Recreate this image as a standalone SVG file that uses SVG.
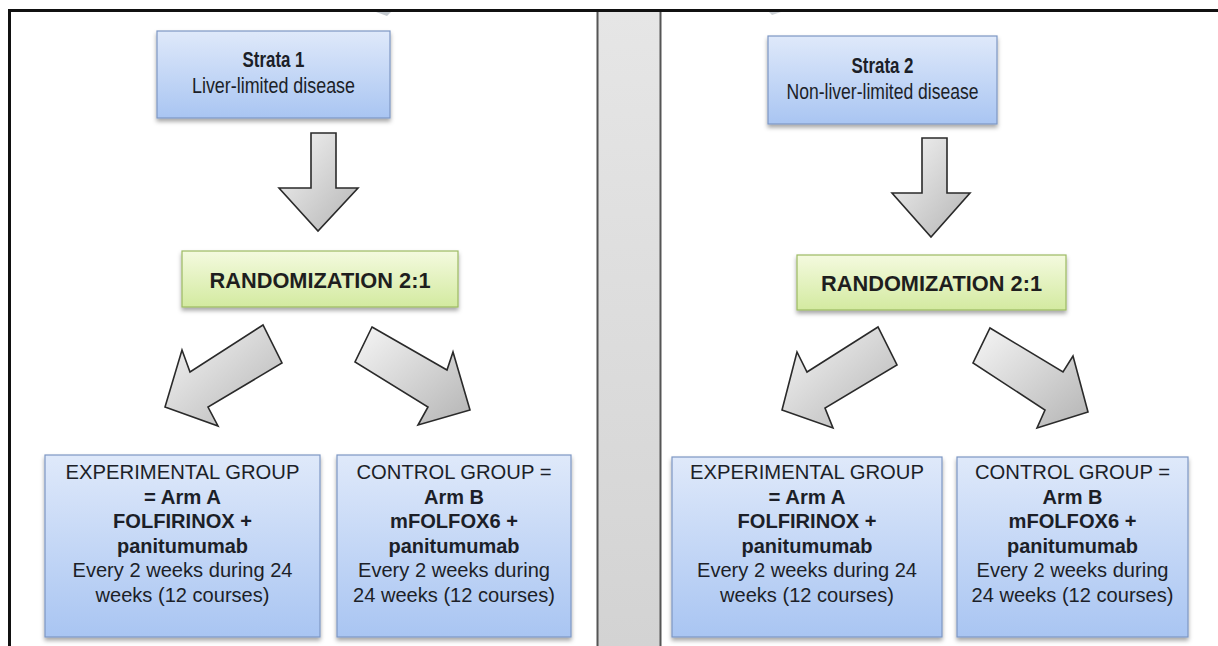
<svg xmlns="http://www.w3.org/2000/svg" width="1218" height="646" viewBox="0 0 1218 646">
  <defs>
    <linearGradient id="gBlue" x1="0" y1="0" x2="0" y2="1">
      <stop offset="0" stop-color="#dfe9fa"/>
      <stop offset="1" stop-color="#a9c5f2"/>
    </linearGradient>
    <linearGradient id="gGreen" x1="0" y1="0" x2="0" y2="1">
      <stop offset="0" stop-color="#f4fadf"/>
      <stop offset="1" stop-color="#d3eaa0"/>
    </linearGradient>
    <linearGradient id="gArrow" x1="0" y1="0" x2="1" y2="1">
      <stop offset="0" stop-color="#f6f6f6"/>
      <stop offset="1" stop-color="#b4b4b4"/>
    </linearGradient>
    <linearGradient id="gDiv" x1="0" y1="0" x2="0" y2="1">
      <stop offset="0" stop-color="#e6e6e6"/>
      <stop offset="1" stop-color="#d3d3d3"/>
    </linearGradient>
    <filter id="sh" x="-10%" y="-10%" width="120%" height="130%">
      <feDropShadow dx="0" dy="3" stdDeviation="2" flood-color="#000" flood-opacity="0.35"/>
    </filter>
  </defs>
  <style>
    .blue { fill: url(#gBlue); stroke: #7d97c4; stroke-width: 1.2; filter: url(#sh); }
    .green { fill: url(#gGreen); stroke: #9cba62; stroke-width: 1.2; filter: url(#sh); }
    .arrow { fill: url(#gArrow); stroke: #2a2a2a; stroke-width: 1.6; stroke-linejoin: miter; }
    .n { font-family: "Liberation Sans", Arial, sans-serif; fill: #1c1f28; text-anchor: middle; }
    .s { font-size: 21.5px; }
    .b { font-size: 21px; }
    .bold { font-weight: bold; }
    .rnd { font-family: "Liberation Sans", Arial, sans-serif; font-weight: bold; font-size: 21.5px; fill: #1e1e1e; text-anchor: middle; }
  </style>
  <rect x="0" y="0" width="1218" height="646" fill="#ffffff"/>

  <g id="frame">
    <line x1="9.5" y1="10.5" x2="1218" y2="10.5" stroke="#111" stroke-width="3"/>
    <line x1="9.5" y1="9" x2="9.5" y2="646" stroke="#111" stroke-width="3"/>
    <polygon points="376,12 391,12 387,16" fill="#9aa3ad" opacity="0.6"/>
    <polygon points="769,12 781,12 772,15" fill="#9aa3ad" opacity="0.5"/>
  </g>

  <g id="divider">
    <rect x="597" y="12" width="64" height="634" fill="url(#gDiv)"/>
    <line x1="597.5" y1="12" x2="597.5" y2="646" stroke="#555" stroke-width="2"/>
    <line x1="660.5" y1="12" x2="660.5" y2="646" stroke="#555" stroke-width="2"/>
  </g>

  <g id="connectors">
    <polygon class="arrow" points="311,133 336,133 336,188 358,188 318,231 279,188 311,188"/>
    <polygon class="arrow" points="263,325 190,372 182,350 165,407 218,426 208,407 282,363"/>
    <polygon class="arrow" points="372,327 447,370 453,352 470,410 418,425 428,407 355,362"/>
    <polygon class="arrow" points="922,138 947,138 947,193 970,193 931,237 892,193 922,193"/>
    <polygon class="arrow" points="878,327 807,372 797,352 782,410 833,428 825,408 897,365"/>
    <polygon class="arrow" points="990,328 1063,372 1073,356 1088,412 1037,428 1045,410 973,363"/>
  </g>

  <g id="strata1">
    <rect class="blue" x="157" y="31" width="233" height="87"/>
    <text class="n s bold" x="273.5" y="67" textLength="62" lengthAdjust="spacingAndGlyphs">Strata 1</text>
    <text class="n s" x="273.5" y="93" textLength="163" lengthAdjust="spacingAndGlyphs">Liver-limited disease</text>
  </g>

  <g id="strata2">
    <rect class="blue" x="768" y="36" width="229" height="88"/>
    <text class="n s bold" x="882.5" y="73" textLength="62" lengthAdjust="spacingAndGlyphs">Strata 2</text>
    <text class="n s" x="882.5" y="99" textLength="192" lengthAdjust="spacingAndGlyphs">Non-liver-limited disease</text>
  </g>

  <g id="rand1">
    <rect class="green" x="182" y="251" width="276" height="56"/>
    <text class="rnd" x="320" y="288" textLength="221" lengthAdjust="spacingAndGlyphs">RANDOMIZATION 2:1</text>
  </g>

  <g id="rand2">
    <rect class="green" x="797" y="255" width="269" height="55"/>
    <text class="rnd" x="931.5" y="291" textLength="221" lengthAdjust="spacingAndGlyphs">RANDOMIZATION 2:1</text>
  </g>

  <g id="armA1">
    <rect class="blue" x="45" y="455" width="275" height="182"/>
    <text class="n b" x="182.5" y="479" textLength="234" lengthAdjust="spacingAndGlyphs">EXPERIMENTAL GROUP</text>
    <text class="n b bold" x="182.5" y="503.5" textLength="77" lengthAdjust="spacingAndGlyphs">= Arm A</text>
    <text class="n b bold" x="182.5" y="528" textLength="139" lengthAdjust="spacingAndGlyphs">FOLFIRINOX +</text>
    <text class="n b bold" x="182.5" y="552.5" textLength="131" lengthAdjust="spacingAndGlyphs">panitumumab</text>
    <text class="n b" x="182.5" y="577" textLength="220" lengthAdjust="spacingAndGlyphs">Every 2 weeks during 24</text>
    <text class="n b" x="182.5" y="601.5" textLength="174" lengthAdjust="spacingAndGlyphs">weeks (12 courses)</text>
  </g>

  <g id="armB1">
    <rect class="blue" x="337" y="455" width="234" height="182"/>
    <text class="n b" x="454" y="479" textLength="195" lengthAdjust="spacingAndGlyphs">CONTROL GROUP =</text>
    <text class="n b bold" x="454" y="503.5" textLength="60" lengthAdjust="spacingAndGlyphs">Arm B</text>
    <text class="n b bold" x="454" y="528" textLength="128" lengthAdjust="spacingAndGlyphs">mFOLFOX6 +</text>
    <text class="n b bold" x="454" y="552.5" textLength="131" lengthAdjust="spacingAndGlyphs">panitumumab</text>
    <text class="n b" x="454" y="577" textLength="192" lengthAdjust="spacingAndGlyphs">Every 2 weeks during</text>
    <text class="n b" x="454" y="601.5" textLength="202" lengthAdjust="spacingAndGlyphs">24 weeks (12 courses)</text>
  </g>

  <g id="armA2">
    <rect class="blue" x="672" y="457" width="270" height="180"/>
    <text class="n b" x="807" y="479" textLength="234" lengthAdjust="spacingAndGlyphs">EXPERIMENTAL GROUP</text>
    <text class="n b bold" x="807" y="503.5" textLength="77" lengthAdjust="spacingAndGlyphs">= Arm A</text>
    <text class="n b bold" x="807" y="528" textLength="139" lengthAdjust="spacingAndGlyphs">FOLFIRINOX +</text>
    <text class="n b bold" x="807" y="552.5" textLength="131" lengthAdjust="spacingAndGlyphs">panitumumab</text>
    <text class="n b" x="807" y="577" textLength="220" lengthAdjust="spacingAndGlyphs">Every 2 weeks during 24</text>
    <text class="n b" x="807" y="601.5" textLength="174" lengthAdjust="spacingAndGlyphs">weeks (12 courses)</text>
  </g>

  <g id="armB2">
    <rect class="blue" x="957" y="457" width="231" height="180"/>
    <text class="n b" x="1072.5" y="479" textLength="195" lengthAdjust="spacingAndGlyphs">CONTROL GROUP =</text>
    <text class="n b bold" x="1072.5" y="503.5" textLength="60" lengthAdjust="spacingAndGlyphs">Arm B</text>
    <text class="n b bold" x="1072.5" y="528" textLength="128" lengthAdjust="spacingAndGlyphs">mFOLFOX6 +</text>
    <text class="n b bold" x="1072.5" y="552.5" textLength="131" lengthAdjust="spacingAndGlyphs">panitumumab</text>
    <text class="n b" x="1072.5" y="577" textLength="192" lengthAdjust="spacingAndGlyphs">Every 2 weeks during</text>
    <text class="n b" x="1072.5" y="601.5" textLength="202" lengthAdjust="spacingAndGlyphs">24 weeks (12 courses)</text>
  </g>
</svg>
